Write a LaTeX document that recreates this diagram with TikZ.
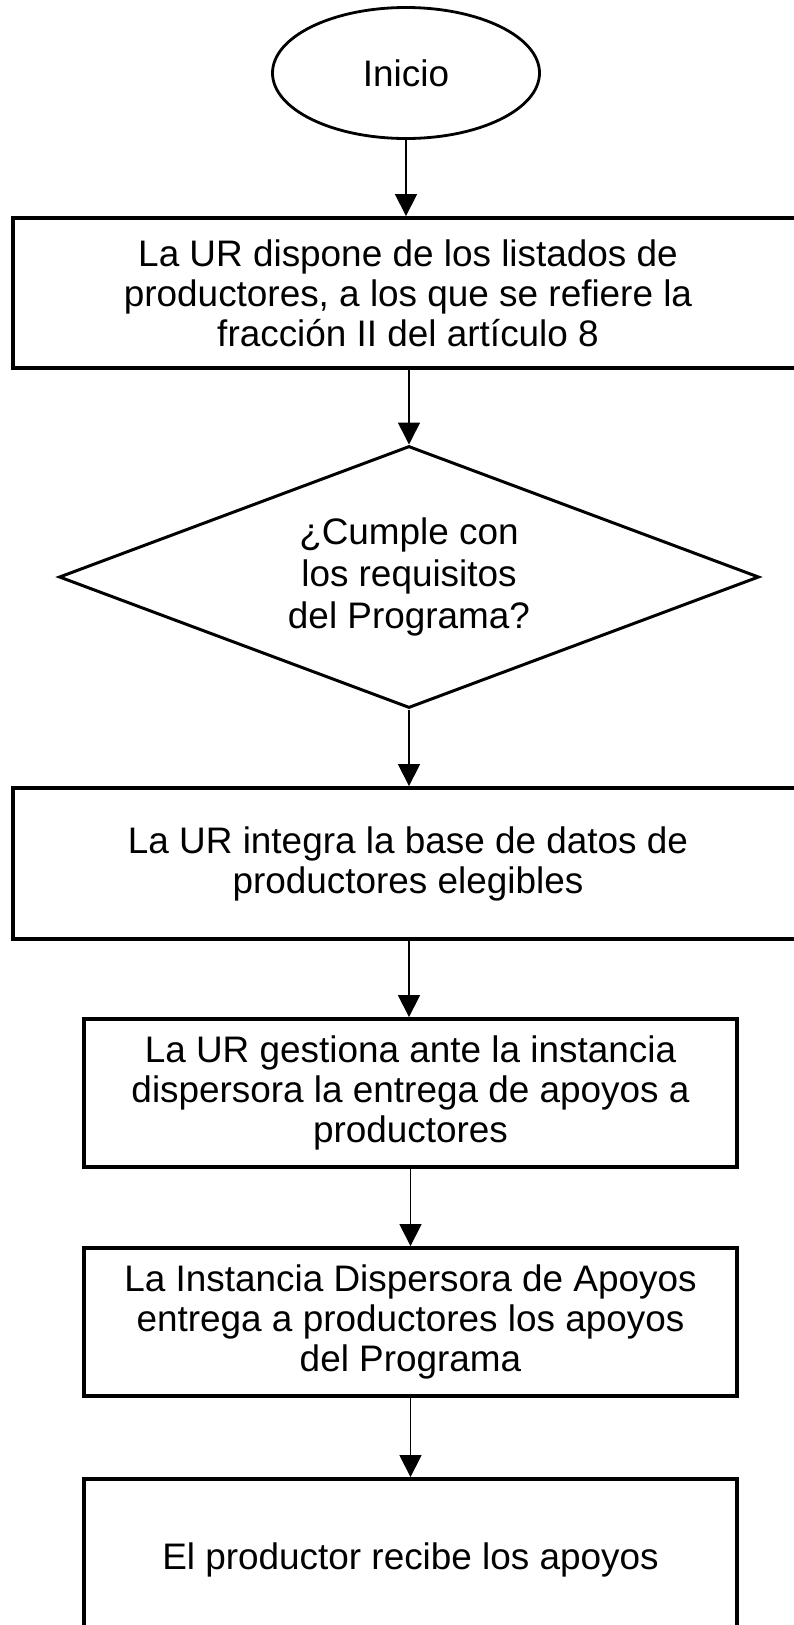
\documentclass[tikz,border=0pt]{standalone}
\usepackage{fontspec}
\setmainfont{Liberation Sans}
\usepackage{tikz}
\usetikzlibrary{positioning}
\usetikzlibrary{shapes.geometric}
\usetikzlibrary{arrows.meta}

\begin{document}
\begin{tikzpicture}[
paso/.style={draw=black, line width=2.2pt, rectangle, align=center, inner sep=0pt,
  font=\fontsize{21}{22.8}\selectfont},
pregunta/.style={draw=black, line width=1.7pt, diamond, aspect=2.67, align=center, inner sep=0pt,
  minimum width=14cm, minimum height=5.24cm, font=\fontsize{21}{23.8}\selectfont},
inicio/.style={draw=black, line width=1.6pt, ellipse, inner sep=0pt,
  minimum width=5.34cm, minimum height=2.62cm, font=\fontsize{21}{22.8}\selectfont},
flecha/.style={draw=black, line width=0.85pt, -{Triangle[width=0.44cm,length=0.44cm]}}
]

\useasboundingbox (0,0) rectangle (15.88,-32.5);

% nodes
\node[inicio] (inicio) at (8.12,-1.46) {Inicio};

\node[paso, minimum width=15.8cm, minimum height=3cm] (listados) at (8.16,-5.86)
{La UR dispone de los listados de\\productores, a los que se refiere la\\fracción II del artículo 8};

\node[pregunta] (requisitos) at (8.18,-11.54)
{¿Cumple con\\los requisitos\\del Programa?};

\node[paso, minimum width=15.8cm, minimum height=3.02cm] (base) at (8.16,-17.27)
{La UR integra la base de datos de\\productores elegibles};

\node[paso, minimum width=13.06cm, minimum height=2.96cm] (gestiona) at (8.21,-21.86)
{La UR gestiona ante la instancia\\dispersora la entrega de apoyos a\\productores};

\node[paso, minimum width=13.06cm, minimum height=2.96cm] (entrega) at (8.21,-26.44)
{La Instancia Dispersora de Apoyos\\entrega a productores los apoyos\\del Programa};

\node[paso, minimum width=13.06cm, minimum height=3.22cm] (recibe) at (8.21,-31.19)
{El productor recibe los apoyos};


% arrows
\draw[flecha] (inicio.south) -- (inicio.south |- listados.north);
\draw[flecha] (requisitos.north |- listados.south) -- (requisitos.north);
\draw[flecha] (requisitos.south) -- (requisitos.south |- base.north);
\draw[flecha] (requisitos.south |- base.south) -- (requisitos.south |- gestiona.north);
\draw[flecha] (gestiona.south) -- (entrega.north);
\draw[flecha] (entrega.south) -- (recibe.north);

\end{tikzpicture}
\end{document}
